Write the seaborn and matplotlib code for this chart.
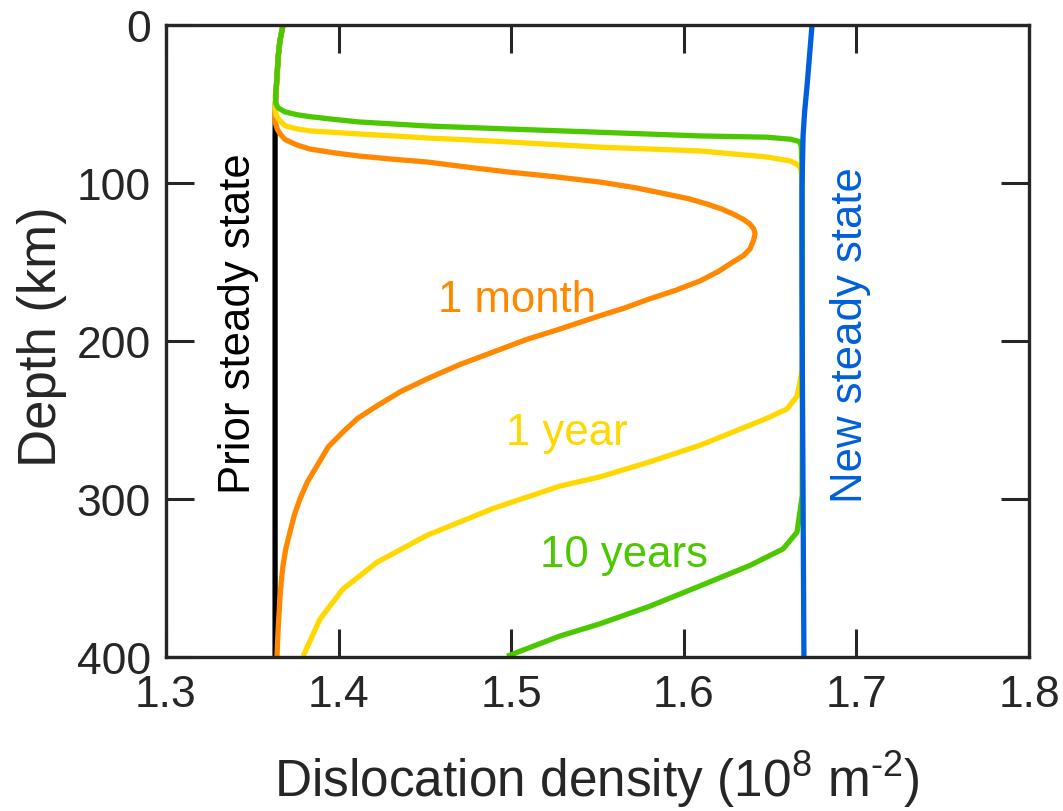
import matplotlib
matplotlib.use("Agg")
import matplotlib.pyplot as plt
import seaborn as sns
import pandas as pd

# ---- data (density in 1e8 m^-2, depth in km) ----
prior_x = [1.3678, 1.3660, 1.3650, 1.3640, 1.3634, 1.3632, 1.3632, 1.3632, 1.3632]
prior_d = [0, 10, 20, 38, 50, 70, 150, 300, 400]

new_x = [1.6743, 1.6728, 1.6714, 1.6700, 1.6691, 1.6685, 1.6685, 1.6687, 1.6690, 1.6696]
new_d = [0, 20, 38.6, 55, 70, 102, 165, 220, 279, 400]

month_x = [1.3678, 1.3660, 1.3650, 1.3640, 1.3634, 1.3632, 1.3634, 1.3645, 1.3665, 1.3690,
           1.3760, 1.3834, 1.3980, 1.4124, 1.4320, 1.4512, 1.4750, 1.4980, 1.5250, 1.5514,
           1.5720, 1.5900, 1.6030, 1.6134, 1.6220, 1.6285, 1.6345, 1.6383, 1.6405, 1.6413,
           1.6405, 1.6383, 1.6345, 1.6285, 1.6200, 1.6094, 1.5950, 1.5800, 1.5660, 1.5514,
           1.5283, 1.5090, 1.4895, 1.4700, 1.4512, 1.4360, 1.4223, 1.4110, 1.4025, 1.3940,
           1.3875, 1.3820, 1.3776, 1.3744, 1.3718, 1.3695, 1.3678, 1.3668, 1.3660, 1.3649,
           1.3643]
month_d = [0, 10, 20, 38, 50, 58, 62, 66, 69.5, 72.5,
           76, 78.5, 81, 83, 85, 86.7, 90, 93, 96, 99.4,
           103, 107, 110, 113.3, 116.5, 119.6, 123, 126, 129, 132,
           136, 141.8, 146, 150, 156, 162, 168, 173.4, 179, 184,
           192.4, 199, 207, 215, 224, 232, 241, 249, 257.6, 267,
           279, 289, 300, 310, 321, 331, 342, 352, 363, 384,
           399.5]

year_x = [1.3678, 1.3660, 1.3650, 1.3640, 1.3634, 1.3632, 1.3638, 1.3655, 1.3690, 1.3760,
          1.3834, 1.3980, 1.4124, 1.4320, 1.4512, 1.4750, 1.4980, 1.5514, 1.6094, 1.6480,
          1.6615, 1.6650, 1.6670, 1.6680, 1.6685, 1.6686, 1.6687, 1.6685, 1.6673, 1.6656,
          1.6598, 1.6480, 1.6285, 1.6094, 1.5800, 1.5514, 1.5283, 1.4895, 1.4512, 1.4223,
          1.4025, 1.3892, 1.3794]
year_d = [0, 10, 20, 38, 48, 53, 57, 60, 63.8, 65.8,
          67, 68, 69, 70.2, 71.5, 72.7, 74, 77.3, 79.7, 83.5,
          86, 87.7, 89.5, 92, 100, 150, 200, 218, 226, 235,
          243, 249, 257.6, 266, 276.6, 286, 291.8, 306, 323, 340,
          357, 376, 399.5]

decade_x = [1.3678, 1.3660, 1.3650, 1.3640, 1.3634, 1.3636, 1.3650, 1.3690, 1.3760, 1.3834,
            1.3980, 1.4124, 1.4512, 1.4980, 1.5514, 1.6094, 1.6480, 1.6620, 1.6670, 1.6680,
            1.6685, 1.6686, 1.6687, 1.6686, 1.6673, 1.6656, 1.6575, 1.6384, 1.6094, 1.5800,
            1.5514, 1.5283, 1.4976]
decade_d = [0, 10, 20, 38, 45, 49.5, 52.5, 55, 56.8, 58,
            59.8, 61.4, 63.9, 65.8, 67.9, 70.2, 71, 72.3, 73.8, 76.5,
            90, 150, 250, 298, 308, 321, 331.6, 342, 355, 368,
            379, 386.7, 399.5]

x_ticks = [1.3, 1.4, 1.5, 1.6, 1.7, 1.8]
y_ticks = [0, 100, 200, 300, 400]

# ---- style ----
sns.set_theme(style="white")
plt.rcParams["font.family"] = ["Liberation Sans", "DejaVu Sans"]
plt.rcParams["mathtext.fontset"] = "custom"
plt.rcParams["mathtext.rm"] = "Liberation Sans"
plt.rcParams["mathtext.it"] = "Liberation Sans"
plt.rcParams["mathtext.default"] = "regular"

dark = "#262626"
c_orange = "#FF8800"
c_yellow = "#FFD800"
c_green = "#4CC800"
c_blue = "#005FDB"

fig = plt.figure(figsize=(10.63, 8.12), dpi=100)
ax = fig.add_axes([166 / 1063, 1 - 658 / 812, (1029 - 166) / 1063, (658 - 26) / 812])

lw = 3.8
series = [
    (prior_x, prior_d, "black"),
    (month_x, month_d, c_orange),
    (year_x, year_d, c_yellow),
    (decade_x, decade_d, c_green),
    (new_x, new_d, c_blue),
]
for xs, ds, col in series:
    df = pd.DataFrame({"density": xs, "depth": ds})
    sns.lineplot(data=df, x="density", y="depth", sort=False, estimator=None,
                 color=col, linewidth=lw, ax=ax, solid_capstyle="butt",
                 solid_joinstyle="round")

ax.set_xlim(1.3, 1.8)
ax.set_ylim(400, 0)
ax.set_xticks(x_ticks)
ax.set_xticklabels([f"{t:.1f}" for t in x_ticks])
ax.set_yticks(y_ticks)
ax.set_yticklabels([str(t) for t in y_ticks])

ax.tick_params(direction="in", length=20, width=2.2, color=dark, labelcolor=dark,
               labelsize=32, top=True, right=True, bottom=True, left=True)
ax.tick_params(axis="x", pad=12)
ax.tick_params(axis="y", pad=11)
for s in ax.spines.values():
    s.set_color(dark)
    s.set_linewidth(2.4)

ax.set_xlabel("Dislocation density (10$^{8}$ m$^{\u2010 2}$)", fontsize=37, color=dark)
ax.xaxis.label.set_va("baseline")
ax.xaxis.set_label_coords(0.499, -0.219)
ax.set_ylabel("Depth (km)", fontsize=38, color=dark)
ax.yaxis.set_label_coords(-0.1147, 0.508)

tfs = 31.5
ax.text(1.3487, 188.3, "Prior steady state", rotation=90, rotation_mode="anchor",
        color="black", fontsize=tfs, ha="center", va="baseline")
ax.text(1.7032, 195.6, "New steady state", rotation=90, rotation_mode="anchor",
        color=c_blue, fontsize=tfs, ha="center", va="baseline")
ax.text(1.5034, 181, "1 month", color=c_orange, fontsize=tfs, ha="center", va="baseline")
ax.text(1.5323, 265, "1 year", color=c_yellow, fontsize=tfs, ha="center", va="baseline")
ax.text(1.5651, 342.4, "10 years", color=c_green, fontsize=tfs, ha="center", va="baseline")

fig.savefig("out.png", dpi=100)
